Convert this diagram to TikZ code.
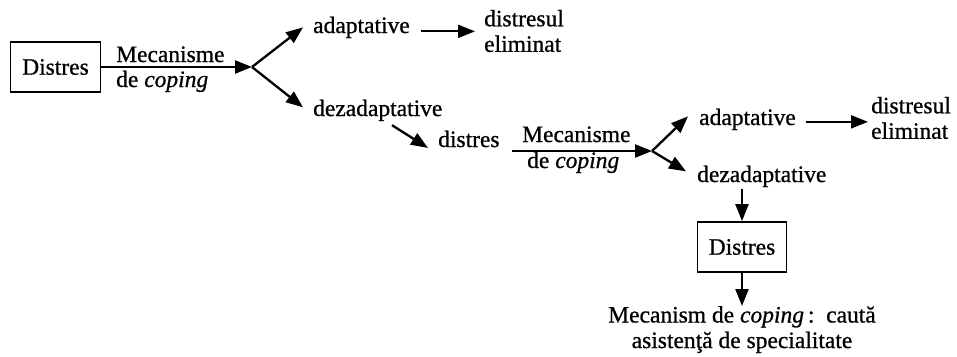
\documentclass[tikz,border=0pt]{standalone}
\usepackage{fontspec}
\setmainfont[FakeBold=0.8]{Liberation Serif}
\usetikzlibrary{arrows.meta,calc}
\begin{document}
\begin{tikzpicture}[x=1pt,y=-1pt,
  every node/.style={font=\fontsize{23.5}{25.5}\selectfont, inner sep=0pt},
  txt/.style={anchor=base west},
  boxnode/.style={draw, line width=1.8pt, minimum width=90pt, minimum height=50pt},
  arr/.style={line width=2.3pt, -{Triangle[length=17pt,width=13pt]}},
  thinarr/.style={line width=1.8pt, -{Triangle[length=17pt,width=13pt]}}]
\useasboundingbox (0,0) rectangle (957,356);

% first stage
\node[boxnode] (d1) at (55.5,67) {Distres};
\node[txt] (m1a) at (116,62) {Mecanisme};
\node[txt] (m1b) at (116,87) {de \textit{coping}};
\coordinate (j1) at (252,67);
\node[txt] (a1) at (313,33) {adaptative};
\node[txt] (z1) at (313,116) {dezadaptative};
\node[anchor=west, align=left] (e1) at (484,31) {distresul\\eliminat};

\draw[arr] (d1.east) -- (j1);
\draw[arr] (j1) -- ($(a1.west)+(-10,0)$);
\draw[arr] (j1) -- ($(z1.west)+(-10,-3)$);
\draw[thinarr] ($(a1.east)+(11,4)$) -- ($(e1.west|-a1.east)+(-9,4)$);

% second stage
\node[txt] (s2) at (438,147) {distres};
\draw[arr] ($(z1.south west)+(79,4)$) -- ($(s2.west)+(-10,9)$);
\node[txt] (m2a) at (522,142) {Mecanisme};
\node[txt] (m2b) at (527,168) {de \textit{coping}};
\coordinate (j2) at (652,151);
\node[txt] (a2) at (699,125) {adaptative};
\node[txt] (z2) at (697,182) {dezadaptative};
\node[anchor=west, align=left] (e2) at (871,118) {distresul\\eliminat};

\draw[arr] ($(s2.base east)+(12,4)$) -- (j2);
\draw[arr] (j2) -- ($(a2.west)+(-11,-3)$);
\draw[arr] (j2) -- ($(z2.west)+(-11,-5)$);
\draw[thinarr] ($(a2.east)+(10,2.5)$) -- ($(e2.west|-a2.east)+(-3,2.5)$);

% third stage
\node[boxnode, minimum width=89pt] (d2) at (742,247) {Distres};
\node[anchor=north, align=center] (c2) at (742,306)
  {Mecanism de \textit{coping}\,:\ \ caută\\asistenţă de specialitate};
\draw[arr] ($(d2.north)+(0,-32)$) -- (d2.north);
\draw[arr] (d2.south) -- (c2.north);
\end{tikzpicture}
\end{document}
